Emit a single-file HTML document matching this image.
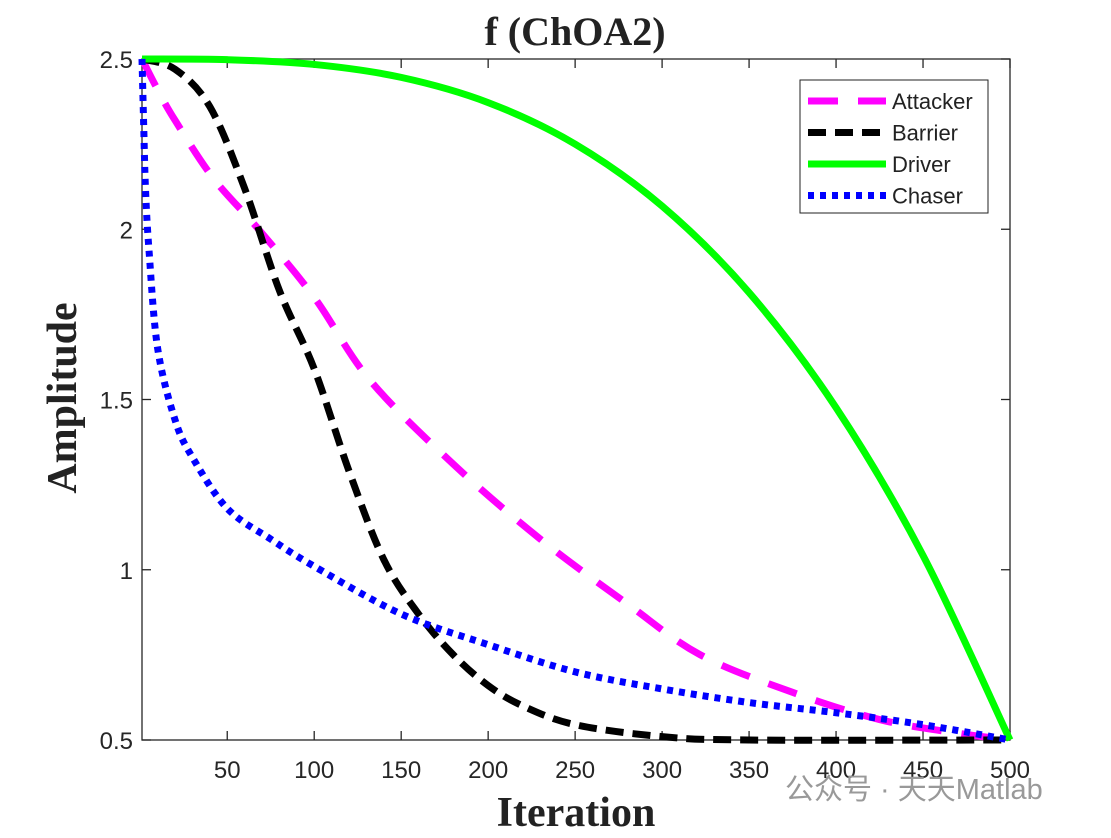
<!DOCTYPE html>
<html><head><meta charset="utf-8"><style>
body{margin:0;background:#fff;width:1111px;height:833px;overflow:hidden}
svg text{font-family:"Liberation Sans",sans-serif}
</style></head><body>
<svg id="chart" width="1111" height="833" xmlns="http://www.w3.org/2000/svg">
<rect x="0" y="0" width="1111" height="833" fill="#fff"/>
<g id="axes"></g>
<g id="plot"></g>
<text x="575" y="45" text-anchor="middle" font-weight="bold" font-size="40" fill="#222" style="font-family:'Liberation Serif',serif">f (ChOA2)</text>
<text transform="translate(76,398) rotate(-90)" text-anchor="middle" font-weight="bold" font-size="42" fill="#222" style="font-family:'Liberation Serif',serif">Amplitude</text>
<text x="576" y="826" text-anchor="middle" font-weight="bold" font-size="42" fill="#222" style="font-family:'Liberation Serif',serif">Iteration</text>
<text x="785" y="799" font-size="29" fill="#999" style="font-family:'Liberation Sans','Noto Sans CJK SC',sans-serif">公众号 · 天天Matlab</text>
<g id="legend">
<rect x="800" y="80" width="188" height="133" fill="#fff" stroke="#222" stroke-width="1"/>
</g>
</svg>
<script>
const xTicks=[50,100,150,200,250,300,350,400,450,500];
const yTicks=[0.5,1,1.5,2,2.5];
const yTickLabels=["0.5","1","1.5","2","2.5"];
const attackerX=[1,10,20,42,68,100,132,180,230,280,322,375,425,470,500];
const attackerY=[2.5,2.41,2.32,2.15,2.0,1.8,1.557,1.31,1.09,0.9,0.75,0.64,0.56,0.52,0.5];
const barrierX=[1,20,40,60,80,100,120,140,160,180,200,220,250,300,350,500];
const barrierY=[2.5,2.47,2.36,2.12,1.82,1.59,1.29,1.03,0.87,0.75,0.66,0.6,0.545,0.51,0.5,0.5];
const driverX=[1,50,100,150,200,250,300,350,400,450,500];
const driverY=[2.5,2.498,2.484,2.446,2.372,2.25,2.068,1.814,1.476,1.042,0.5];
const chaserX=[1,2,3,5,10,20,30,50,75,100,150,200,250,300,350,400,450,500];
const chaserY=[2.5,2.3,2.12,1.94,1.65,1.44,1.33,1.18,1.09,1.01,0.87,0.78,0.7,0.65,0.61,0.58,0.545,0.5];
const L=142,R=1010,T=59,B=740;
const sx=v=>L+(v-1)*(R-L)/499;
const sy=v=>B-(v-0.5)*(B-T)/2;
const NS="http://www.w3.org/2000/svg";
const axes=document.getElementById('axes'),plot=document.getElementById('plot');
function mk(t,a,p){const e=document.createElementNS(NS,t);for(const k in a)e.setAttribute(k,a[k]);p.appendChild(e);return e;}
const frame=mk('rect',{x:L,y:T,width:R-L,height:B-T,fill:'none',stroke:'#262626','stroke-width':1.3},axes);


xTicks.forEach(v=>{
 const x=sx(v);
 mk('line',{x1:x,x2:x,y1:B,y2:B-9,stroke:'#262626','stroke-width':1.3},axes);
 mk('line',{x1:x,x2:x,y1:T,y2:T+9,stroke:'#262626','stroke-width':1.3},axes);
 const t=mk('text',{x:x,y:B+38,'text-anchor':'middle','font-size':24,fill:'#262626'},axes);
 t.textContent=v;
 
 
});
yTicks.forEach((v,i)=>{
 const y=sy(v);
 mk('line',{x1:L,x2:L+9,y1:y,y2:y,stroke:'#262626','stroke-width':1.3},axes);
 mk('line',{x1:R,x2:R-9,y1:y,y2:y,stroke:'#262626','stroke-width':1.3},axes);
 const t=mk('text',{x:L-9,y:y+9,'text-anchor':'end','font-size':24,fill:'#262626'},axes);
 t.textContent=yTickLabels[i];
 
 
});
function smooth(xs,ys){
 const p=xs.map((x,i)=>[sx(x),sy(ys[i])]);
 let d='M'+p[0][0]+','+p[0][1];
 for(let i=0;i<p.length-1;i++){
  const p0=p[i-1]||p[i],p1=p[i],p2=p[i+1],p3=p[i+2]||p2;
  const c1=[p1[0]+(p2[0]-p0[0])/6,p1[1]+(p2[1]-p0[1])/6];
  const c2=[p2[0]-(p3[0]-p1[0])/6,p2[1]-(p3[1]-p1[1])/6];
  d+=' C'+c1+' '+c2+' '+p2;
 }
 return d;
}
const series=[
 {n:'attacker',x:attackerX,y:attackerY,c:'#ff00ff',dash:'30 20'},
 {n:'barrier',x:barrierX,y:barrierY,c:'#000',dash:'18 9'},
 {n:'driver',x:driverX,y:driverY,c:'#00ff00',dash:''},
 {n:'chaser',x:chaserX,y:chaserY,c:'#0000ff',dash:'6 6'}
];
series.forEach(s=>{
 const p=mk('path',{d:smooth(s.x,s.y),fill:'none',stroke:s.c,'stroke-width':7,'stroke-dasharray':s.dash},plot);
 
 
});
const lg=document.getElementById('legend');
const names=['Attacker','Barrier','Driver','Chaser'];
series.forEach((s,i)=>{
 const y=101+i*31.5;
 mk('line',{x1:808,x2:886,y1:y,y2:y,stroke:s.c,'stroke-width':7,'stroke-dasharray':s.dash},lg);
 const t=mk('text',{x:892,y:y+8,'font-size':22,fill:'#222'},lg);
 t.textContent=names[i];
 
 
});
</script>
</body></html>
